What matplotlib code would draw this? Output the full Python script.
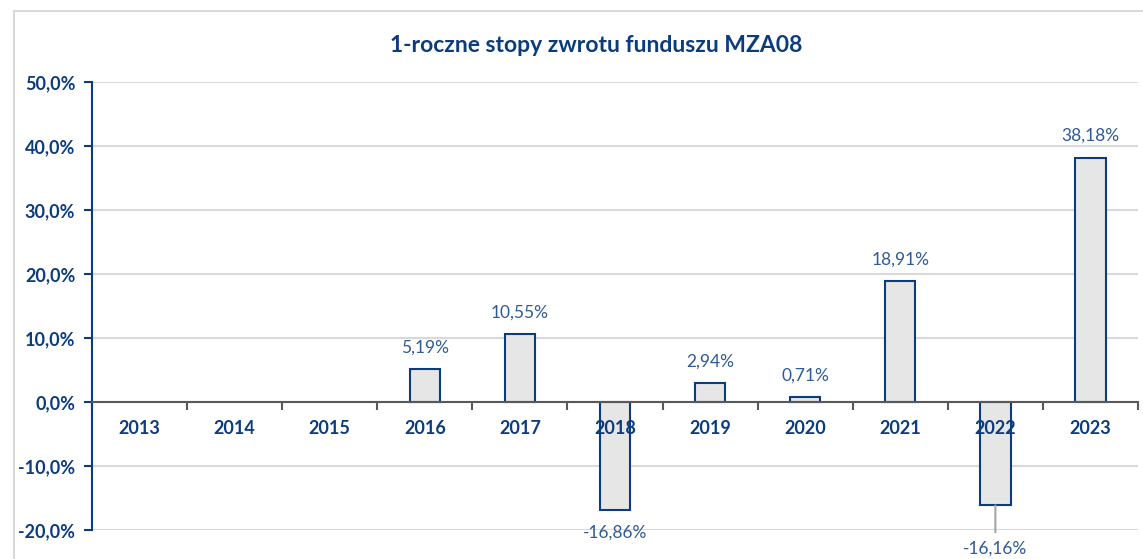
import numpy as np
import matplotlib
matplotlib.use("Agg")
import matplotlib.pyplot as plt
from matplotlib.lines import Line2D

# === Data ===
years = ["2013", "2014", "2015", "2016", "2017", "2018", "2019", "2020", "2021", "2022", "2023"]
returns = [np.nan, np.nan, np.nan, 5.19, 10.55, -16.86, 2.94, 0.71, 18.91, -16.16, 38.18]
yticks = [-20, -10, 0, 10, 20, 30, 40, 50]

navy = "#0B3C7D"
label_blue = "#2E5A96"
plt.rcParams["font.family"] = ["Lato", "DejaVu Sans"]

W, H = 1143, 559
fig = plt.figure(figsize=(W / 100, H / 100), dpi=100)

# frame round the chart area (only left and top edges are visible)
fig.lines.append(Line2D([14 / W, 14 / W], [0, 1 - 11 / H], transform=fig.transFigure,
                        color="#D9D9D9", linewidth=1.5))
fig.lines.append(Line2D([14 / W, 1], [1 - 11 / H, 1 - 11 / H], transform=fig.transFigure,
                        color="#D9D9D9", linewidth=1.5))

ax = fig.add_axes([92 / W, 1 - 530 / H, (1138 - 92) / W, (530 - 82) / H])

x = np.arange(len(years))
vals = np.array(returns, dtype=float)
ax.bar(x, vals, width=0.32, color="#E6E6E6", edgecolor=navy, linewidth=1.5, zorder=3)

ax.set_xlim(-0.5, len(years) - 0.5)
ax.set_ylim(-20, 50)

# gridlines
ax.set_yticks(yticks)
ax.set_yticklabels([f"{v},0%" for v in yticks])
ax.grid(axis="y", color="#D9D9D9", linewidth=1.5, zorder=0)
ax.set_axisbelow(True)

# spines
for s in ["top", "right"]:
    ax.spines[s].set_visible(False)
ax.spines["left"].set_color(navy)
ax.spines["left"].set_linewidth(1.5)
ax.spines["bottom"].set_position(("data", 0))
ax.spines["bottom"].set_color("#595959")
ax.spines["bottom"].set_linewidth(1.5)
ax.spines["bottom"].set_zorder(4)

ax.tick_params(axis="y", direction="out", length=6, width=1.5, color=navy,
               labelcolor=navy, labelsize=13, pad=6)
for t in ax.get_yticklabels():
    t.set_fontweight("bold")

# tick marks at slot boundaries; category names drawn on top of the bars
ax.set_xticks([])
ax.set_xticks(np.arange(len(years) + 1) - 0.5, minor=True)
ax.tick_params(axis="x", which="minor", direction="out", length=6, width=1.5,
               color="#595959", labelbottom=False)
for xi, yr in zip(x, years):
    ax.annotate(yr, (xi, 0), xytext=(0, -19), textcoords="offset points",
                ha="center", va="center", fontsize=13, fontweight="bold",
                color=navy, zorder=6)

# data labels
for xi, v in zip(x, vals):
    if np.isnan(v):
        continue
    txt = f"{v:.2f}%".replace(".", ",")
    if v >= 0:
        ax.annotate(txt, (xi, v), xytext=(0, 15.5), textcoords="offset points",
                    ha="center", va="center", color=label_blue, fontsize=12.5)
    elif years[xi] == "2022":
        ax.annotate(txt, (xi, v), xytext=(0, -31), textcoords="offset points",
                    ha="center", va="center", color=label_blue, fontsize=12.5,
                    annotation_clip=False)
        ax.annotate("", (xi, v), xytext=(xi, v - 4.2),
                    arrowprops=dict(arrowstyle="-", color="#A6A6A6", lw=1.5,
                                    shrinkA=0, shrinkB=0),
                    annotation_clip=False)
    else:
        ax.annotate(txt, (xi, v), xytext=(0, -16.5), textcoords="offset points",
                    ha="center", va="center", color=label_blue, fontsize=12.5,
                    annotation_clip=False)

fig.text(596 / W, 1 - 45 / H, "1-roczne stopy zwrotu funduszu MZA08",
         ha="center", va="center", fontsize=16.5, fontweight="bold", color=navy)

fig.savefig("out.png", dpi=100)
